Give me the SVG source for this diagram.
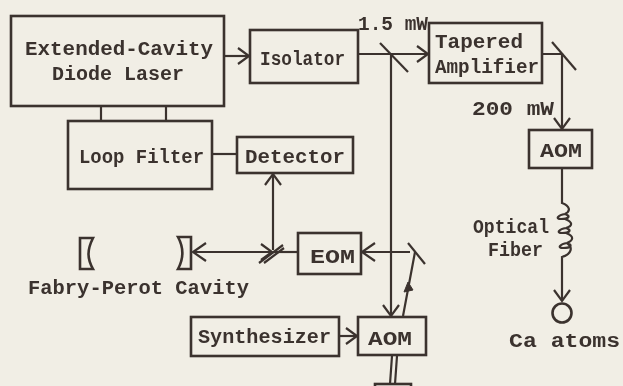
<svg xmlns="http://www.w3.org/2000/svg" width="623" height="386" viewBox="0 0 623 386">
<defs>
<style>
.b{fill:none;stroke:#3b332f;stroke-width:2.6}
.l{fill:none;stroke:#3b332f;stroke-width:2.2}
.t{font-family:"Liberation Mono","DejaVu Sans Mono",monospace;font-weight:700;fill:#3b332f;font-size:20px}
</style>
<filter id="soft" filterUnits="userSpaceOnUse" x="0" y="0" width="623" height="386"><feGaussianBlur stdDeviation="0.55"/></filter>
<marker id="a" markerWidth="16" markerHeight="18" refX="13" refY="9" orient="auto" markerUnits="userSpaceOnUse"><path d="M2 1L13 9L2 17" fill="none" stroke="#3b332f" stroke-width="2.2"/></marker>
</defs>
<rect width="623" height="386" fill="#f1eee5"/>
<g filter="url(#soft)">
<g id="connectors">
<path class="l" d="M225 56H249" marker-end="url(#a)"/>
<path class="l" d="M101 107V120M166 107V120"/>
<path class="l" d="M213 154H236"/>
<path class="l" d="M273 250V174" marker-end="url(#a)"/>
<path class="l" d="M359 54H428" marker-end="url(#a)"/>
<path class="l" d="M380 43L408 72"/>
<path class="l" d="M391 54V316" marker-end="url(#a)"/>
<path class="l" d="M543 54H562V129" marker-end="url(#a)"/>
<path class="l" d="M552 42L576 70"/>
<path class="l" d="M562 169V203c8 3 9 8 3 11c-7 1-10 5-4 5c8 0 10-3 4-5M565 219c8 3 8 7 1 9c-7 1-10 5-4 5c8 0 10-3 4-5M566 233c8 3 8 7 1 10c-7 1-10 5-4 5c8 0 10-3 4-5M567 243c6 4 5 11-5 14V301" marker-end="url(#a)"/>
<path class="l" d="M193 252H272" marker-end="url(#a)"/>
<path class="l" d="M206 243L193 252L206 261"/>
<path class="l" d="M259 263L283 245M264 263L284 248"/>
<path class="l" d="M273 252H297"/>
<path class="l" d="M362 252H410"/>
<path class="l" d="M375 243L362 252L375 261"/>
<path class="l" d="M408 243L425 264"/>
<path class="l" d="M403 316L415 252"/>
<path d="M404 292L408 282L413 290Z" fill="#3b332f" stroke="#3b332f"/>
<path class="l" d="M340 336H357" marker-end="url(#a)"/>
<path class="l" d="M392 356L390 384M397 356L395 384"/>
</g>
<g id="laser"><rect class="b" x="11" y="16" width="213" height="90"/><text class="t" x="25" y="55" textLength="188" lengthAdjust="spacingAndGlyphs">Extended-Cavity</text><text class="t" x="52" y="80" textLength="132" lengthAdjust="spacingAndGlyphs">Diode Laser</text></g>
<g id="isolator"><rect class="b" x="250" y="30" width="108" height="53"/><text class="t" x="260" y="65" textLength="85" lengthAdjust="spacingAndGlyphs">Isolator</text></g>
<g id="loop"><rect class="b" x="68" y="121" width="144" height="68"/><text class="t" x="79" y="163" textLength="125" lengthAdjust="spacingAndGlyphs">Loop Filter</text></g>
<g id="detector"><rect class="b" x="237" y="137" width="116" height="36"/><text class="t" x="245" y="163" textLength="100" lengthAdjust="spacingAndGlyphs">Detector</text></g>
<g id="amp"><rect class="b" x="429" y="23" width="113" height="60"/><text class="t" x="435" y="48" textLength="88" lengthAdjust="spacingAndGlyphs">Tapered</text><text class="t" x="435" y="73" textLength="104" lengthAdjust="spacingAndGlyphs">Amplifier</text></g>
<g id="aom1"><rect class="b" x="529" y="130" width="63" height="38"/><text class="t" x="540" y="157" textLength="42" lengthAdjust="spacingAndGlyphs">AOM</text></g>
<g id="eom"><rect class="b" x="298" y="233" width="63" height="41"/><text class="t" x="310" y="263" textLength="45" lengthAdjust="spacingAndGlyphs">EOM</text></g>
<g id="aom2"><rect class="b" x="358" y="317" width="68" height="38"/><text class="t" x="368" y="345" textLength="44" lengthAdjust="spacingAndGlyphs">AOM</text></g>
<g id="synth"><rect class="b" x="191" y="317" width="148" height="39"/><text class="t" x="198" y="343" textLength="133" lengthAdjust="spacingAndGlyphs">Synthesizer</text></g>
<g id="stub"><rect class="b" x="375" y="384" width="36" height="10"/></g>
<g id="cavity">
<path class="b" d="M80 238H93C87 250 87 258 93 269H80Z"/>
<path class="b" d="M178 237H191V269H178C184 258 184 248 178 237Z"/>
<text class="t" x="28" y="294" textLength="221" lengthAdjust="spacingAndGlyphs">Fabry-Perot Cavity</text>
</g>
<g id="atoms"><circle class="b" cx="562" cy="313" r="9.5"/><text class="t" x="509" y="347" textLength="111" lengthAdjust="spacingAndGlyphs">Ca atoms</text></g>
<g id="labels">
<text class="t" x="358" y="30" textLength="70" lengthAdjust="spacingAndGlyphs">1.5 mW</text>
<text class="t" x="472" y="115" textLength="82" lengthAdjust="spacingAndGlyphs">200 mW</text>
<text class="t" x="473" y="233" textLength="76" lengthAdjust="spacingAndGlyphs">Optical</text>
<text class="t" x="488" y="256" textLength="55" lengthAdjust="spacingAndGlyphs">Fiber</text>
</g>
</g>
</svg>
